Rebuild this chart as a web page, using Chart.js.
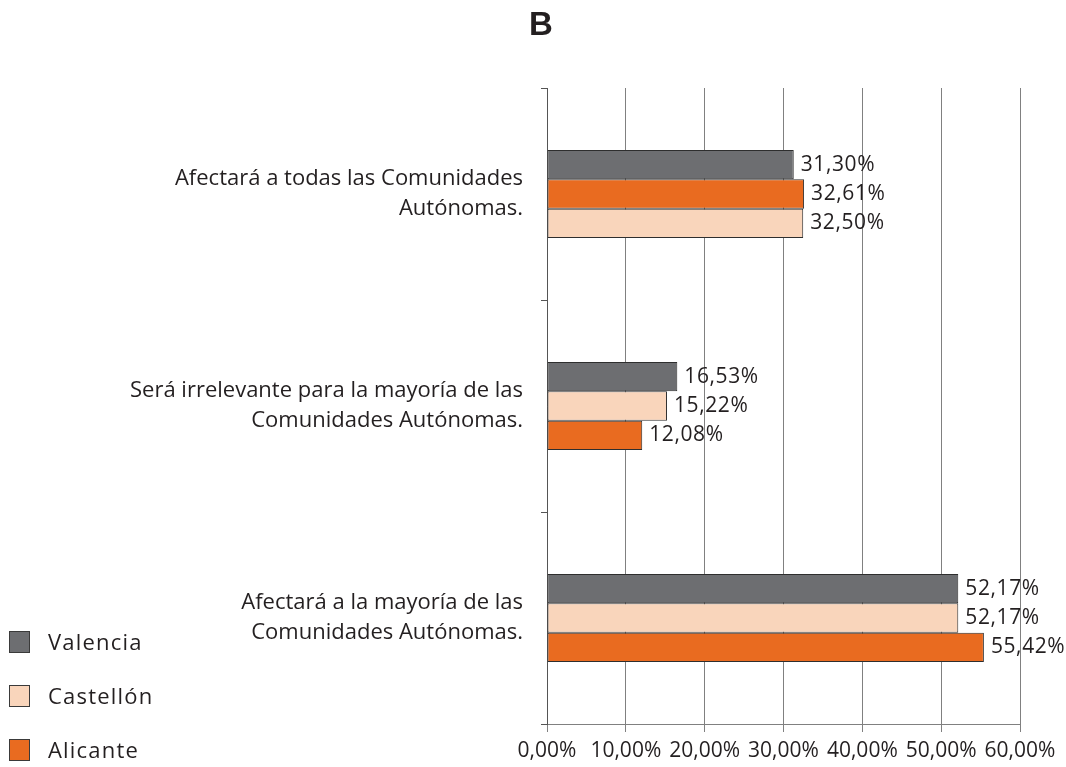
<!DOCTYPE html>
<html>
<head>
<meta charset="utf-8">
<script src="https://cdn.jsdelivr.net/npm/chart.js@4.4.1/dist/chart.umd.min.js"></script>
<style>
  html, body { margin: 0; padding: 0; background: #ffffff; }
  #wrap { position: relative; width: 1066px; height: 767px; }
  #title { position: absolute; left: 0; top: 5px; width: 1082px; text-align: center; font-family: Arial, "Liberation Sans", sans-serif; font-weight: bold; font-size: 33px; color: #231f20; }
  #legend { position: absolute; left: 9px; top: 631px; font-family: "Open Sans", sans-serif; font-size: 22px; letter-spacing: 1.2px; color: #231f20; }
  .item { position: relative; height: 54px; }
  .sw { position: absolute; left: 0; top: 0; width: 21px; height: 22px; border: 1px solid #3a3a3a; box-sizing: border-box; }
  .lbl { position: absolute; left: 39px; top: -5px; white-space: nowrap; }
</style>
</head>
<body>
<div id="wrap">
  <canvas id="c" width="1066" height="767"></canvas>
  <div id="title">B</div>
  <div id="legend"></div>
</div>
<script>
// ---- data ----
const categories = [
  ["Afectará a todas las Comunidades", "Autónomas."],
  ["Será irrelevante para la mayoría de las", "Comunidades Autónomas."],
  ["Afectará a la mayoría de las", "Comunidades Autónomas."]
];
const seriesNames = ["Valencia", "Castellón", "Alicante"];
const valencia  = [31.30, 16.53, 52.17];
const castellon = [32.50, 15.22, 52.17];
const alicante  = [32.61, 12.08, 55.42];
// order of bars (top to bottom) inside each category, as drawn in the source
const barOrder = [
  ["Valencia", "Alicante", "Castellón"],
  ["Valencia", "Castellón", "Alicante"],
  ["Valencia", "Castellón", "Alicante"]
];
const xTickLabels = ["0,00%", "10,00%", "20,00%", "30,00%", "40,00%", "50,00%", "60,00%"];

// ---- styles ----
const colors = { "Valencia": "#6d6e71", "Castellón": "#f9d5bb", "Alicante": "#e96b20" };
const valuesBySeries = { "Valencia": valencia, "Castellón": castellon, "Alicante": alicante };

const FONT = "'Open Sans', sans-serif";

// build one dataset per bar slot
const datasets = [0, 1, 2].map(slot => ({
  label: "slot" + slot,
  data: categories.map((_, i) => valuesBySeries[barOrder[i][slot]][i]),
  backgroundColor: categories.map((_, i) => colors[barOrder[i][slot]]),
  borderColor: "#2e2e2e",
  borderWidth: 1,
  borderSkipped: false,
  categoryPercentage: 0.415,
  barPercentage: 1.0
}));

const fmt = v => v.toFixed(2).replace(".", ",") + "%";

const valueLabels = {
  id: "valueLabels",
  afterDatasetsDraw(chart) {
    const ctx = chart.ctx;
    ctx.save();
    ctx.font = "21px " + FONT;
    ctx.letterSpacing = "0.6px";
    ctx.fillStyle = "#231f20";
    ctx.textAlign = "left";
    ctx.textBaseline = "middle";
    chart.data.datasets.forEach((ds, di) => {
      chart.getDatasetMeta(di).data.forEach((bar, i) => {
        ctx.fillText(fmt(ds.data[i]), bar.x + 7, bar.y);
      });
    });
    ctx.restore();
  }
};

new Chart(document.getElementById("c"), {
  type: "bar",
  data: { labels: categories, datasets },
  options: {
    indexAxis: "y",
    responsive: false,
    animation: false,
    layout: { padding: { left: 0, right: 46, top: 88, bottom: -4 } },
    plugins: {
      legend: { display: false },
      tooltip: { enabled: false },
      title: { display: false }
    },
    scales: {
      x: {
        min: 0, max: 60,
        ticks: {
          stepSize: 10,
          font: { family: FONT, size: 21, lineHeight: 1.0 },
          color: "#231f20",
          padding: 9,
          maxRotation: 0,
          autoSkip: false,
          callback: (v, i) => xTickLabels[i]
        },
        grid: { color: "#808080", lineWidth: 1, tickLength: 8, drawTicks: true },
        border: { color: "#808080", width: 1 }
      },
      y: {
        ticks: {
          font: { family: FONT, size: 22, lineHeight: 1.36 },
          color: "#231f20",
          padding: 18,
          crossAlign: "near"
        },
        grid: { drawOnChartArea: false, drawTicks: true, tickLength: 6, color: "#555555", offset: true },
        border: { color: "#555555", width: 1 },
        afterFit(scale) {
          scale.width = 547;
          scale.paddingTop = 0;
          scale.paddingBottom = 0;
        }
      }
    }
  },
  plugins: [valueLabels]
});

// legend (HTML)
const legend = document.getElementById("legend");
seriesNames.forEach(name => {
  const item = document.createElement("div");
  item.className = "item";
  const sw = document.createElement("div");
  sw.className = "sw";
  sw.style.background = colors[name];
  const lb = document.createElement("div");
  lb.className = "lbl";
  lb.textContent = name;
  item.appendChild(sw);
  item.appendChild(lb);
  legend.appendChild(item);
});
</script>
</body>
</html>
